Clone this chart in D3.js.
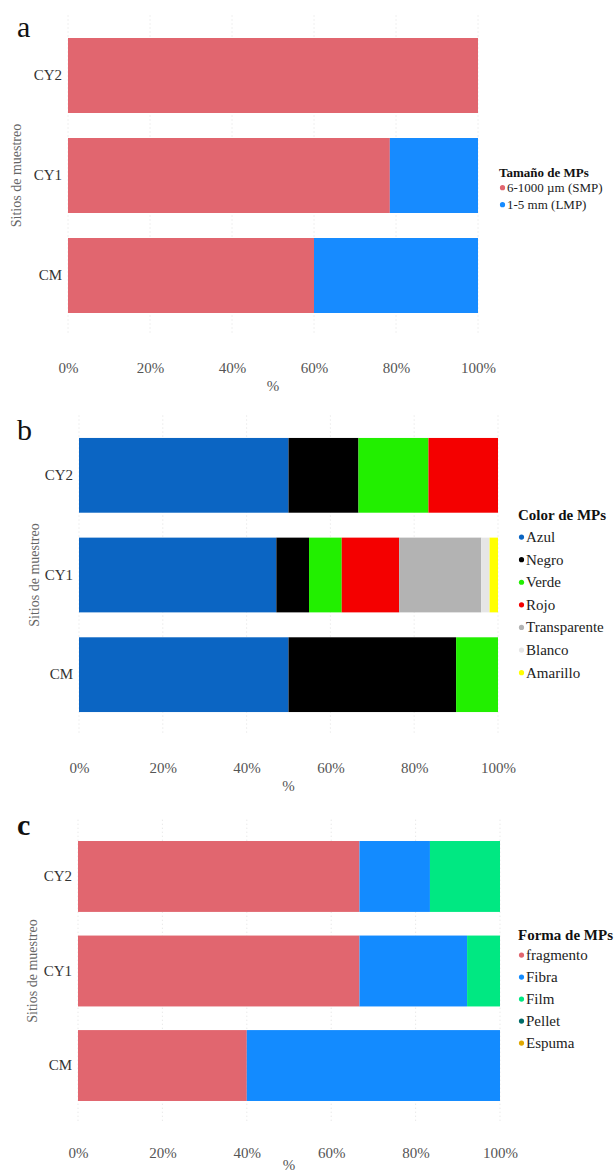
<!DOCTYPE html>
<html>
<head>
<meta charset="utf-8">
<script src="https://cdn.jsdelivr.net/npm/d3@7"></script>
<style>
  body { margin: 0; background: #fff; }
  svg { display: block; }
  svg text { font-family: "Liberation Serif", "Times New Roman", serif; }
</style>
</head>
<body>
<div id="chart"></div>
<script>
// sites, top to bottom
const sites = ["CY2", "CY1", "CM"];
const tickValues = [0, 20, 40, 60, 80, 100];

// a - tamaño
const sizeNames = ["6-1000 µm (SMP)", "1-5 mm (LMP)"];
const sizeColors = ["#e1666f", "#178bff"];
const sizeSMP = [100, 78.5, 60];
const sizeLMP = [0, 21.5, 40];

// b - color
const colorNames = ["Azul", "Negro", "Verde", "Rojo", "Transparente", "Blanco", "Amarillo"];
const colorColors = ["#0b65c3", "#000000", "#22ef00", "#f40000", "#b3b3b3", "#e6e6e6", "#ffff00"];
const colAzul = [50, 47.1, 50];
const colNegro = [16.7, 7.8, 40];
const colVerde = [16.7, 7.8, 10];
const colRojo = [16.6, 13.7, 0];
const colTransparente = [0, 19.6, 0];
const colBlanco = [0, 2.0, 0];
const colAmarillo = [0, 2.0, 0];

// c - forma
const shapeNames = ["fragmento", "Fibra", "Film", "Pellet", "Espuma"];
const shapeColors = ["#e1666f", "#138bff", "#00e882", "#006b68", "#e0a800"];
const shFragmento = [66.7, 66.7, 40];
const shFibra = [16.7, 25.5, 60];
const shFilm = [16.6, 7.8, 0];
const shPellet = [0, 0, 0];
const shEspuma = [0, 0, 0];

const W = 614, H = 1174;
const svg = d3.select("#chart").append("svg")
  .attr("width", W)
  .attr("height", H);

function drawPanel(p) {
  // rows for d3.stack
  const rows = sites.map((s, i) => {
    const r = { site: s };
    p.names.forEach((n, k) => r[n] = p.series[k][i]);
    return r;
  });
  const stacked = d3.stack().keys(p.names)(rows);

  const x = d3.scaleLinear().domain([0, 100]).range([p.x0, p.x1]);
  const y = d3.scaleBand().domain(sites).range(p.yRange)
    .paddingInner(0.25).paddingOuter(0.125);
  const step = y.step();
  const plotTop = y("CY2") + y.bandwidth() / 2 - 0.6 * step;
  const plotBottom = y("CM") + y.bandwidth() / 2 + 0.6 * step;

  const g = svg.append("g");

  // grid
  g.append("g").selectAll("line")
    .data(tickValues)
    .join("line")
    .attr("x1", d => x(d)).attr("x2", d => x(d))
    .attr("y1", plotTop).attr("y2", plotBottom)
    .attr("stroke", "#d9d9d9")
    .attr("stroke-width", 0.8)
    .attr("stroke-dasharray", "1,3");

  // bars
  g.append("g").selectAll("g")
    .data(stacked)
    .join("g")
    .attr("fill", (d, i) => p.colors[i])
    .selectAll("rect")
    .data(d => d)
    .join("rect")
    .attr("x", d => x(d[0]))
    .attr("y", d => y(d.data.site))
    .attr("width", d => Math.max(0, x(d[1]) - x(d[0])))
    .attr("height", y.bandwidth());

  // x axis
  const xAxis = g.append("g")
    .attr("transform", `translate(0,${p.tickY})`)
    .call(d3.axisBottom(x).tickValues(tickValues).tickFormat(d => d + "%").tickSize(0));
  xAxis.attr("font-family", null);
  xAxis.select(".domain").remove();
  xAxis.selectAll("text")
    .attr("dy", 0)
    .attr("y", 0)
    .style("font-size", "15px")
    .attr("fill", "#555");

  g.append("text")
    .text("%")
    .attr("x", (p.x0 + p.x1) / 2)
    .attr("y", p.tickY + p.pctGap)
    .attr("text-anchor", "middle")
    .style("font-size", "15px")
    .attr("fill", "#555");

  // y axis
  const yAxis = g.append("g")
    .attr("transform", `translate(${p.x0 - 6},0)`)
    .call(d3.axisLeft(y).tickSize(0).tickPadding(0));
  yAxis.attr("font-family", null);
  yAxis.select(".domain").remove();
  yAxis.selectAll("text")
    .style("font-size", "15px")
    .attr("fill", "#333");

  g.append("text")
    .text("Sitios de muestreo")
    .attr("transform", `translate(${p.yTitleX},${(plotTop + plotBottom) / 2}) rotate(-90)`)
    .attr("text-anchor", "middle")
    .attr("dy", "0.35em")
    .style("font-size", "14px")
    .attr("fill", "#666");

  // panel letter
  g.append("text")
    .text(p.letter)
    .attr("x", 17)
    .attr("y", p.letterY)
    .style("font-size", "30px")
    .style("font-weight", p.letterBold ? "bold" : "normal")
    .attr("fill", "#111");

  // legend
  const lg = g.append("g").attr("transform", `translate(${p.legendX},${p.legendY})`);
  lg.append("text")
    .text(p.legendTitle)
    .attr("x", 0)
    .attr("y", 0)
    .style("font-weight", "bold")
    .style("font-size", p.legendFont + "px")
    .attr("fill", "#111");
  const items = lg.selectAll("g.item")
    .data(p.names)
    .join("g")
    .attr("class", "item")
    .attr("transform", (d, i) => `translate(0,${p.legendFirst + i * p.legendStep})`);
  items.append("circle")
    .attr("cx", 3.5)
    .attr("cy", -p.legendFont * 0.33)
    .attr("r", 2.6)
    .attr("fill", (d, i) => p.colors[i]);
  items.append("text")
    .text(d => d)
    .attr("x", 8)
    .attr("y", 0)
    .style("font-size", p.legendFont + "px")
    .attr("fill", "#222");
}

drawPanel({
  names: sizeNames, colors: sizeColors, series: [sizeSMP, sizeLMP],
  x0: 68, x1: 478, yRange: [25.5, 325.5], tickY: 373, pctGap: 18,
  yTitleX: 16, letter: "a", letterY: 37, letterBold: false,
  legendTitle: "Tamaño de MPs", legendX: 499, legendY: 177,
  legendFirst: 15, legendStep: 17, legendFont: 13
});

drawPanel({
  names: colorNames, colors: colorColors,
  series: [colAzul, colNegro, colVerde, colRojo, colTransparente, colBlanco, colAmarillo],
  x0: 79, x1: 498, yRange: [425.5, 724.5], tickY: 773, pctGap: 18,
  yTitleX: 34, letter: "b", letterY: 440, letterBold: false,
  legendTitle: "Color de MPs", legendX: 518, legendY: 520,
  legendFirst: 22, legendStep: 22.6, legendFont: 15
});

drawPanel({
  names: shapeNames, colors: shapeColors,
  series: [shFragmento, shFibra, shFilm, shPellet, shEspuma],
  x0: 78, x1: 500, yRange: [829.2, 1112.8], tickY: 1158, pctGap: 12,
  yTitleX: 32, letter: "c", letterY: 835, letterBold: true,
  legendTitle: "Forma de MPs", legendX: 518, legendY: 940,
  legendFirst: 20, legendStep: 22, legendFont: 15
});
</script>
</body>
</html>
